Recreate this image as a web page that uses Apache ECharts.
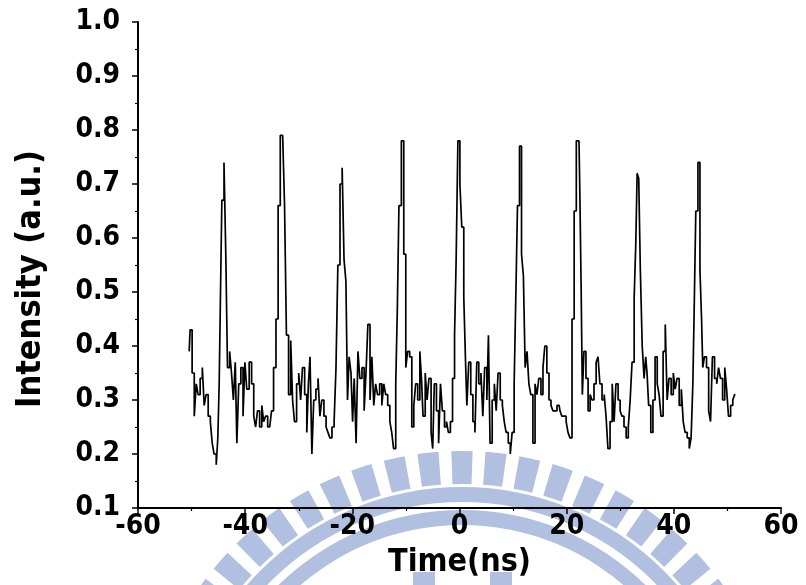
<!DOCTYPE html>
<html>
<head>
<meta charset="utf-8">
<script src="https://cdn.jsdelivr.net/npm/echarts@6/dist/echarts.min.js"></script>
<style>
html,body{margin:0;padding:0;background:#fff;}
#c{width:806px;height:585px;}
</style>
</head>
<body>
<div id="c"></div>
<script>
const times = [
-50.45,-50.1,-49.7,-49.3,-48.96,-48.6,-48.2,-47.8,-47.5,-47.1,-46.7,-46.3,-46.0,-45.6,-45.2,-45.0,-44.7,-44.5,-44.2,-43.7,-43.5,-43.1,-42.7,-42.4,-42.0,-41.7,-41.4,-41.0,-40.6,-40.2,-39.9,-39.5,-39.0,-38.6,-38.2,-37.9,-37.5,-37.1,-36.7,-36.4,-36.0,-35.6,-35.25,-34.9,-34.5,-34.0,
-33.7,-33.2,-32.8,-32.5,-32.1,-31.7,-31.3,-31.0,-30.6,-30.2,-29.8,-29.5,-29.1,-28.7,-28.3,-28.1,-27.7,-27.4,-27.0,-26.6,-26.2,-25.9,-25.5,-25.1,-24.7,-24.4,-24.0,-23.6,-23.2,-22.9,-22.5,-22.1,-21.7,-21.4,-21.0,-20.8,-20.4,-20.1,-19.8,-19.5,-19.1,-18.8,-18.4,-18.0,-17.6,-17.3,-16.9,-16.5,
-16.2,-15.8,-15.5,-15.1,-14.7,-14.3,-13.96,-13.6,-13.2,-12.8,-12.5,-12.1,-11.7,-11.5,-11.1,-10.6,-10.2,-9.85,-9.5,-9.1,-8.7,-8.35,-8.0,-7.6,-7.2,-7.0,-6.6,-6.2,-5.9,-5.5,-5.1,-4.9,-4.5,-4.1,-3.7,-3.4,-3.0,-2.6,-2.25,-1.9,-1.5,-1.1,-0.75,-0.5,-0.1,0.25,0.6,1.0,
1.2,1.55,1.9,2.3,2.7,3.05,3.4,3.8,4.2,4.5,4.9,5.3,5.5,5.9,6.3,6.7,7.0,7.4,7.8,8.2,8.5,8.9,9.3,9.65,10.0,10.4,10.65,11.0,11.4,11.75,12.1,12.4,12.8,13.1,13.5,13.9,14.3,14.6,15.0,15.4,15.75,16.1,16.5,16.9,17.25,17.6,18.0,18.4,
18.6,18.9,19.3,19.7,20.1,20.4,20.8,21.2,21.6,22.0,22.3,22.6,22.8,23.05,23.4,23.8,24.2,24.55,24.9,25.3,25.7,26.0,26.4,26.8,27.2,27.5,27.9,28.3,28.7,29.0,29.4,29.8,30.15,30.5,30.9,31.3,31.7,32.0,32.4,32.8,33.0,33.3,33.6,33.9,34.3,34.6,34.9,35.1,35.5,35.9,
36.3,36.7,37.1,37.4,37.8,38.2,38.6,38.9,39.3,39.7,40.1,40.4,40.8,41.2,41.6,41.9,42.3,42.7,43.05,43.4,43.7,43.9,44.3,44.7,45.05,45.3,45.5,45.9,46.3,46.7,47.0,47.4,47.8,48.2,48.5,48.9,49.3,49.7,50.0,50.4,50.8,51.2,51.5
];
const intensity = [
0.39,0.43,0.35,0.27,0.33,0.31,0.34,0.36,0.29,0.31,0.27,0.26,0.22,0.20,0.18,0.23,0.33,0.50,0.67,0.74,0.56,0.36,0.39,0.35,0.30,0.37,0.22,0.33,0.36,0.27,0.37,0.32,0.37,0.33,0.27,0.25,0.28,0.25,0.29,0.26,0.27,0.25,0.25,0.28,0.36,0.45,
0.66,0.79,0.79,0.66,0.42,0.31,0.41,0.30,0.26,0.33,0.35,0.30,0.36,0.31,0.24,0.33,0.38,0.20,0.30,0.32,0.34,0.27,0.30,0.27,0.25,0.24,0.23,0.25,0.26,0.36,0.55,0.70,0.73,0.56,0.52,0.30,0.38,0.35,0.26,0.34,0.22,0.39,0.34,0.36,0.28,0.35,0.44,0.30,
0.38,0.29,0.33,0.31,0.33,0.29,0.33,0.31,0.29,0.26,0.24,0.21,0.33,0.47,0.66,0.78,0.57,0.36,0.39,0.38,0.25,0.29,0.33,0.30,0.39,0.34,0.27,0.35,0.30,0.34,0.24,0.21,0.33,0.28,0.22,0.33,0.28,0.25,0.26,0.24,0.26,0.34,0.42,0.56,0.78,0.70,0.62,0.49,
0.38,0.29,0.37,0.31,0.26,0.24,0.37,0.33,0.35,0.27,0.36,0.30,0.42,0.22,0.30,0.33,0.28,0.35,0.30,0.29,0.26,0.24,0.22,0.20,0.24,0.33,0.50,0.66,0.77,0.57,0.53,0.36,0.39,0.33,0.31,0.22,0.33,0.31,0.34,0.31,0.36,0.40,0.35,0.30,0.29,0.28,0.28,0.29,
0.29,0.28,0.27,0.27,0.26,0.24,0.23,0.45,0.65,0.78,0.78,0.69,0.51,0.31,0.39,0.34,0.28,0.31,0.30,0.33,0.37,0.38,0.33,0.30,0.31,0.27,0.21,0.26,0.33,0.26,0.33,0.30,0.28,0.27,0.25,0.23,0.25,0.30,0.37,0.49,0.59,0.72,0.71,0.54,0.40,0.34,0.38,0.35,0.29,0.24,
0.30,0.38,0.33,0.31,0.27,0.39,0.44,0.30,0.34,0.31,0.35,0.32,0.34,0.29,0.32,0.26,0.24,0.23,0.21,0.23,0.33,0.47,0.65,0.74,0.54,0.45,0.36,0.38,0.36,0.28,0.26,0.38,0.34,0.33,0.36,0.34,0.30,0.36,0.32,0.27,0.29,0.30,0.31
];
const xTicks = [-60,-40,-20,0,20,40,60];
const yTicks = [0.1,0.2,0.3,0.4,0.5,0.6,0.7,0.8,0.9,1.0];

const FONT = '"DejaVu Sans Condensed","Liberation Sans Narrow","DejaVu Sans",sans-serif';
const chart = echarts.init(document.getElementById('c'), null, {renderer:'canvas'});
const pairs = times.map((t,i)=>[t,intensity[i]]);

// faint background watermark (seal) drawn behind the chart
const WM = '#b1c0e0';
const CX = 462, CY = 772;
const wm = [];
for (let k = -11; k <= 11; k++) {
  const a = -Math.PI/2 + k * (6.1*Math.PI/180);
  const hw = 1.9*Math.PI/180;
  wm.push({type:'sector', z:-10, silent:true,
    shape:{cx:CX, cy:CY, r0:288, r:321, startAngle:a-hw, endAngle:a+hw, clockwise:true},
    style:{fill:WM}});
}
wm.push({type:'ring', z:-10, silent:true, shape:{cx:CX, cy:CY, r:285, r0:270}, style:{fill:WM}});
wm.push({type:'ring', z:-10, silent:true, shape:{cx:CX, cy:CY, r:262, r0:247}, style:{fill:WM}});
wm.push({type:'rect', z:-10, silent:true, shape:{x:413, y:572, width:22, height:20}, style:{fill:WM}});
wm.push({type:'rect', z:-10, silent:true, shape:{x:490, y:572, width:22, height:20}, style:{fill:WM}});

const axisCommon = {
  axisLine:{show:true,onZero:false,lineStyle:{color:'#000',width:2}},
  axisTick:{show:true,inside:false,length:6,lineStyle:{color:'#000',width:1.5}},
  minorTick:{show:true,splitNumber:2,length:3,lineStyle:{color:'#000',width:1.2}},
  splitLine:{show:false},
  axisLabel:{color:'#000',fontFamily:FONT,fontWeight:'bold',fontSize:28}
};
chart.setOption({
  animation:false,
  backgroundColor:'#fff',
  grid:{left:138,right:25,top:22,bottom:77,containLabel:false},
  graphic:wm.concat([{
    type:'text', x:31, y:279, rotation:Math.PI/2, z:10,
    style:{text:'Intensity (a.u.)', fill:'#000', font:'bold 34px ' + FONT, textAlign:'center', textVerticalAlign:'middle'}
  }]),
  xAxis:Object.assign({},axisCommon,{
    type:'value',min:xTicks[0],max:xTicks[xTicks.length-1],interval:20,
    name:'Time(ns)',nameLocation:'middle',nameGap:39,
    nameTextStyle:{color:'#000',fontFamily:FONT,fontWeight:'bold',fontSize:32},
    axisLabel:Object.assign({},axisCommon.axisLabel,{margin:5,showMinLabel:true,showMaxLabel:true})
  }),
  yAxis:Object.assign({},axisCommon,{
    type:'value',min:yTicks[0],max:yTicks[yTicks.length-1],interval:0.1,
    axisLabel:Object.assign({},axisCommon.axisLabel,{margin:18,formatter:v=>v.toFixed(1)})
  }),
  series:[{
    type:'line',data:pairs,showSymbol:false,symbol:'none',step:'middle',
    lineStyle:{color:'#000',width:1.7},clip:true
  }]
});
</script>
</body>
</html>
